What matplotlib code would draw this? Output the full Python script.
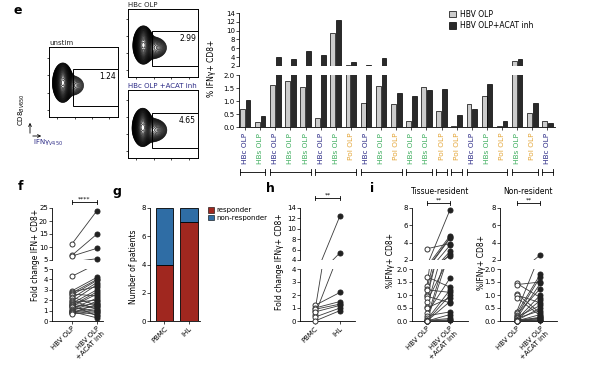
import numpy as np
import matplotlib
matplotlib.use('Agg')
import matplotlib.pyplot as plt
from matplotlib.patches import Patch, Rectangle, FancyArrowPatch
from matplotlib.lines import Line2D
from matplotlib.transforms import blended_transform_factory

# ---- data ----
# panel e: per-antigen bars
e_antigen = ['HBc', 'HBs', 'HBc', 'HBs', 'HBs', 'HBc', 'HBs', 'Pol', 'HBc', 'HBs', 'Pol',
             'HBs', 'HBs', 'Pol', 'Pol', 'HBc', 'HBs', 'Pol', 'HBs', 'Pol', 'HBc']
e_olp = [0.69, 0.19, 1.63, 1.77, 1.53, 0.36, 9.4, 2.3, 0.91, 1.56, 0.87,
         0.23, 1.52, 0.60, 0.02, 0.88, 1.20, 0.02, 3.15, 0.54, 0.23]
e_acat = [1.04, 0.42, 4.06, 3.53, 5.43, 4.6, 12.46, 2.9, 2.2, 3.7, 1.30,
          1.19, 1.41, 1.47, 0.45, 0.69, 1.64, 0.23, 3.5, 0.94, 0.17]
e_groups = [2, 3, 3, 3, 2, 1, 1, 3, 2, 1]   # patients, bars per patient
flow_titles = ['unstim', 'HBc OLP', 'HBc OLP +ACAT inh']
flow_values = ['1.24', '2.99', '4.65']

# panel f: fold change, HBV OLP vs +ACAT inh
f_olp = [11.2, 6.8, 6.5, 4.3, 2.9, 2.8, 2.7, 2.6, 2.5, 2.3, 2.2, 2.0, 1.9, 1.8, 1.7,
         1.6, 1.5, 1.5, 1.4, 1.3, 1.3, 1.2, 1.1, 1.0, 1.0, 0.9, 0.9, 0.8, 0.8, 0.7]
f_acat = [24.0, 15.0, 9.5, 5.5, 4.2, 3.3, 4.0, 2.4, 3.9, 1.5, 3.7, 1.1, 3.5, 2.0, 3.0,
          1.3, 2.8, 0.5, 2.6, 1.7, 0.9, 2.2, 1.4, 1.9, 0.6, 1.2, 0.3, 1.0, 1.6, 0.8]

# panel g: responders
g_cats = ['PBMC', 'IHL']
g_resp = [4, 7]
g_nonresp = [4, 1]

# panel h: PBMC vs IHL fold change
h_pbmc = [0.8, 0.5, 1.2, 1.0, 0.9, 0.7, 0.3, 0.0]
h_ihl = [12.5, 5.4, 2.2, 1.5, 1.3, 1.2, 1.0, 0.8]

# panel i: tissue-resident / non-resident
i_tr_olp = [3.3, 1.7, 1.35, 1.25, 1.2, 1.0, 0.95, 0.9, 0.75, 0.55, 0.5, 0.3,
            0.2, 0.1, 0.05, 0.02, 0.0, 0.0, 0.0, 0.0, 0.0, 0.0]
i_tr_acat = [3.9, 1.3, 7.8, 4.8, 1.1, 4.6, 0.7, 4.5, 2.5, 3.7, 0.9, 1.65,
             0.35, 3.0, 1.2, 0.1, 2.7, 0.25, 1.0, 0.75, 0.05, 0.02]
i_nr_olp = [1.45, 1.4, 1.05, 1.0, 0.9, 0.35, 0.3, 0.25, 0.2, 0.15, 0.1, 0.1,
            0.05, 0.05, 0.03, 0.02, 0.0, 0.0, 0.0, 0.0, 0.0, 0.0]
i_nr_acat = [0.9, 1.5, 0.3, 0.7, 0.2, 2.6, 1.8, 1.25, 1.7, 0.6, 1.45, 0.4,
             1.0, 0.1, 0.8, 0.5, 0.25, 0.15, 0.05, 0.1, 0.05, 0.02]

ag_colors = {'HBc': '#2b2a86', 'HBs': '#3fae5f', 'Pol': '#e3a537'}
LIGHT, DARK = '#cccccc', '#2a2a2a'
RED, BLUE = '#a0271f', '#2f6da5'

W, H = 600, 366
fig = plt.figure(figsize=(6, 3.66), dpi=100)


def box(x0, y0, x1, y1):
    # axes from pixel corners (top-left origin)
    return fig.add_axes([x0 / W, 1 - y1 / H, (x1 - x0) / W, (y1 - y0) / H])


def style(ax, bottom=True):
    for s in ['top', 'right']:
        ax.spines[s].set_visible(False)
    for s in ['left', 'bottom']:
        ax.spines[s].set_linewidth(0.6)
    if not bottom:
        ax.spines['bottom'].set_visible(False)
        ax.set_xticks([])
    ax.tick_params(length=2, width=0.5, labelsize=5, pad=1)


def ftext(x, y, s, **kw):
    fig.text(x / W, 1 - y / H, s, **kw)


def sig(ax, x0, x1, y, stars):
    tr = blended_transform_factory(ax.transData, fig.transFigure)
    yy = 1 - y / H
    ax.plot([x0, x1], [yy, yy], color='k', lw=0.6, transform=tr, clip_on=False)
    for x in (x0, x1):
        ax.plot([x, x], [yy - 0.006, yy + 0.006], color='k', lw=0.6, transform=tr, clip_on=False)
    ax.text((x0 + x1) / 2, yy + 0.002, stars, fontsize=4.5, ha='center', va='bottom', transform=tr)


def broken_pairs(x0, x1, lo_lim, hi_lim, lo_ticks, hi_ticks, a, b, xlim, labels, lofmt=None):
    up = box(x0, 208, x1, 260)
    lo = box(x0, 269, x1, 321)
    style(up, bottom=False)
    style(lo)
    for ax, lim, ticks in ((up, hi_lim, hi_ticks), (lo, lo_lim, lo_ticks)):
        ax.set_ylim(*lim)
        ax.set_xlim(*xlim)
        ax.set_yticks(ticks)
        for va, vb in zip(a, b):
            ax.plot([0, 1], [va, vb], color='#3a3a3a', lw=0.6, zorder=1)
        av, bv = np.array(a), np.array(b)
        ma = (av >= lim[0]) & (av <= lim[1])
        mb = (bv >= lim[0]) & (bv <= lim[1])
        ax.scatter(np.zeros(ma.sum()), av[ma], s=13, facecolor='white', edgecolor='#333333',
                   lw=0.7, zorder=3, clip_on=False)
        ax.scatter(np.ones(mb.sum()), bv[mb], s=13, facecolor='#222222', edgecolor='#222222',
                   lw=0.7, zorder=3, clip_on=False)
    if lofmt:
        lo.set_yticklabels([lofmt.format(t) for t in lo_ticks])
    lo.set_xticks([0, 1])
    lo.set_xticklabels(labels, rotation=45, ha='right', rotation_mode='anchor', fontsize=5)
    return up, lo


# ================= panel e: bars =================
n = len(e_olp)
x = np.arange(n)
bw = 0.32
e_up = box(239, 13, 555, 66)
e_lo = box(239, 75, 555, 127)
style(e_up, bottom=False)
style(e_lo)
for ax in (e_up, e_lo):
    ax.bar(x - 0.19, e_olp, bw, color=LIGHT, edgecolor='k', lw=0.5)
    ax.bar(x + 0.19, e_acat, bw, color=DARK, edgecolor='k', lw=0.5)
    ax.set_xlim(-0.4, 20.5)
e_up.set_ylim(2, 14)
e_up.set_yticks(range(2, 15, 2))
e_lo.set_ylim(0, 2)
e_lo.set_yticks([0, 0.5, 1.0, 1.5, 2.0])
e_lo.set_yticklabels(['0.0', '0.5', '1.0', '1.5', '2.0'])
e_lo.set_xticks(x)
e_lo.set_xticklabels([f'{a} OLP' for a in e_antigen], rotation=90, fontsize=5.3, va='top')
e_lo.tick_params(axis='x', length=2, pad=2)
for lab, a in zip(e_lo.get_xticklabels(), e_antigen):
    lab.set_color(ag_colors[a])
ftext(212, 68, '% IFNγ+ CD8+', rotation=90, fontsize=5.5, ha='center', va='center')

# patient brackets under the labels
tr = blended_transform_factory(e_lo.transData, fig.transFigure)
yb = 1 - 172 / H
start = 0
for g in e_groups:
    xa, xb = start - 0.35, start + g - 1 + 0.35
    e_lo.plot([xa, xb], [yb, yb], color='k', lw=0.6, transform=tr, clip_on=False)
    for xx in (xa, xb):
        e_lo.plot([xx, xx], [yb - 0.008, yb + 0.008], color='k', lw=0.6, transform=tr, clip_on=False)
    start += g

fig.legend(handles=[Patch(facecolor=LIGHT, edgecolor='k', lw=0.5, label='HBV OLP'),
                    Patch(facecolor=DARK, edgecolor='k', lw=0.5, label='HBV OLP+ACAT inh')],
           loc='upper left', bbox_to_anchor=(442 / W, 1 - 3 / H), frameon=False, fontsize=5.5,
           handlelength=0.9, handleheight=0.9, labelspacing=0.3, handletextpad=0.5)

# ================= panel e: flow plots =================
gx, gy = np.meshgrid(np.linspace(0, 1, 240), np.linspace(0, 1, 240))
flow_boxes = [(49, 47, 118, 117), (128, 9, 198, 77), (128, 90, 198, 158)]
flow_cx = [0.2, 0.22, 0.21]
flow_cy = [0.49, 0.47, 0.45]
flow_tail = [0.03, 0.06, 0.09]
gates = [(0.35, 0.157, 0.686), (0.34, 0.157, 0.67), (0.34, 0.14, 0.66)]
for bx, cx, cy, tl, gt, ttl, val in zip(flow_boxes, flow_cx, flow_cy, flow_tail, gates,
                                         flow_titles, flow_values):
    ax = box(*bx)
    dens = np.exp(-((gx - cx) / 0.045) ** 2 / 2 - ((gy - cy) / 0.085) ** 2 / 2)
    dens += tl * np.exp(-((gx - cx - 0.12) / 0.09) ** 2 / 2 - ((gy - cy + 0.04) / 0.07) ** 2 / 2)
    ax.contour(gx, gy, dens, levels=np.geomspace(0.004, 0.9, 30), colors='k', linewidths=0.45)
    ax.set_xlim(0, 1)
    ax.set_ylim(0, 1)
    ax.add_patch(Rectangle((gt[0], gt[1]), 1 - gt[0], gt[2] - gt[1], fill=False, lw=0.7,
                           edgecolor='k'))
    ax.text(0.97, gt[2] - 0.04, val, fontsize=5.5, ha='right', va='top')
    ax.set_xticks([0.12, 0.37, 0.62, 0.87])
    ax.set_yticks([0.1, 0.35, 0.6, 0.85])
    ax.set_xticklabels([])
    ax.set_yticklabels([])
    ax.tick_params(length=1.5, width=0.5)
    for s in ax.spines.values():
        s.set_linewidth(0.7)
    ax.text(0.0, 1.01, ttl, fontsize=5, ha='left', va='bottom', transform=ax.transAxes,
            color='#222222' if ttl != flow_titles[2] else '#2b2a86')

ftext(22, 110, 'CD8$_{BV650}$', rotation=90, fontsize=5, ha='center', va='center')
ftext(33, 143, 'IFNγ$_{V450}$', fontsize=5, ha='left', va='center', color='#2b2a86')
fig.add_artist(FancyArrowPatch((30 / W, 1 - 136 / H), (30 / W, 1 - 120 / H),
               transform=fig.transFigure, arrowstyle='->', mutation_scale=5, lw=0.6))
fig.add_artist(FancyArrowPatch((30 / W, 1 - 136 / H), (44 / W, 1 - 136 / H),
               transform=fig.transFigure, arrowstyle='->', mutation_scale=5, lw=0.6))

# ================= panel f =================
f_up, f_lo = broken_pairs(52, 103, (0, 5), (5, 25), range(0, 6), range(5, 26, 5),
                          f_olp, f_acat, (-0.8, 1.24), ['HBV OLP', 'HBV OLP\n+ACAT inh'])
sig(f_up, 0, 1, 202, '****')
ftext(35, 255, 'Fold change IFN+ CD8+', rotation=90, fontsize=5.5, ha='center', va='center')

# ================= panel g =================
g_ax = box(150, 208, 200, 321)
style(g_ax)
gpos = np.arange(len(g_cats))
g_ax.bar(gpos, g_resp, 0.7, color=RED, edgecolor='k', lw=0.6)
g_ax.bar(gpos, g_nonresp, 0.7, bottom=g_resp, color=BLUE, edgecolor='k', lw=0.6)
g_ax.set_xlim(-0.59, 1.45)
g_ax.set_ylim(0, 8)
g_ax.set_yticks(range(0, 9, 2))
g_ax.set_xticks(gpos)
g_ax.set_xticklabels(g_cats, rotation=45, ha='right', rotation_mode='anchor', fontsize=5)
ftext(133, 267, 'Number of patients', rotation=90, fontsize=5.5, ha='center', va='center')
fig.legend(handles=[Patch(facecolor=RED, edgecolor='k', lw=0.4, label='responder'),
                    Patch(facecolor=BLUE, edgecolor='k', lw=0.4, label='non-responder')],
           loc='upper left', bbox_to_anchor=(202 / W, 1 - 201 / H), frameon=False, fontsize=5,
           handlelength=0.8, handleheight=0.8, labelspacing=0.25, handletextpad=0.4)

# ================= panel h =================
h_up, h_lo = broken_pairs(300, 355, (0, 4), (4, 14), range(0, 5), range(4, 15, 2),
                          h_pbmc, h_ihl, (-0.6, 1.6), ['PBMC', 'IHL'])
sig(h_up, 0, 1, 198, '**')
ftext(280, 262, 'Fold change IFNγ+ CD8+', rotation=90, fontsize=5.5, ha='center', va='center')

# ================= panel i =================
lbl = ['HBV OLP', 'HBV OLP\n+ACAT inh']
i1_up, i1_lo = broken_pairs(412, 468, (0, 2), (2, 8), [0, 0.5, 1, 1.5, 2], range(2, 9, 2),
                            i_tr_olp, i_tr_acat, (-0.65, 1.78), lbl, lofmt='{:.1f}')
i2_up, i2_lo = broken_pairs(500, 557, (0, 2), (2, 8), [0, 0.5, 1, 1.5, 2], range(2, 9, 2),
                            i_nr_olp, i_nr_acat, (-0.7, 1.7), lbl, lofmt='{:.1f}')
sig(i1_up, 0, 1, 203, '**')
sig(i2_up, 0, 1, 203, '**')
ftext(440, 192, 'Tissue-resident', fontsize=5.5, ha='center', va='center')
ftext(528, 192, 'Non-resident', fontsize=5.5, ha='center', va='center')
ftext(391, 260, '%IFNγ+ CD8+', rotation=90, fontsize=5.5, ha='center', va='center')
ftext(481, 262, '%IFNγ+ CD8+', rotation=90, fontsize=5.5, ha='center', va='center')

# panel letters
for s, px, py in [('e', 18, 10), ('f', 20, 187), ('g', 117, 192), ('h', 270, 188), ('i', 372, 188)]:
    ftext(px, py, s, fontsize=9, fontweight='bold', ha='center', va='center')

fig.savefig('out.png', dpi=100, facecolor='white')
